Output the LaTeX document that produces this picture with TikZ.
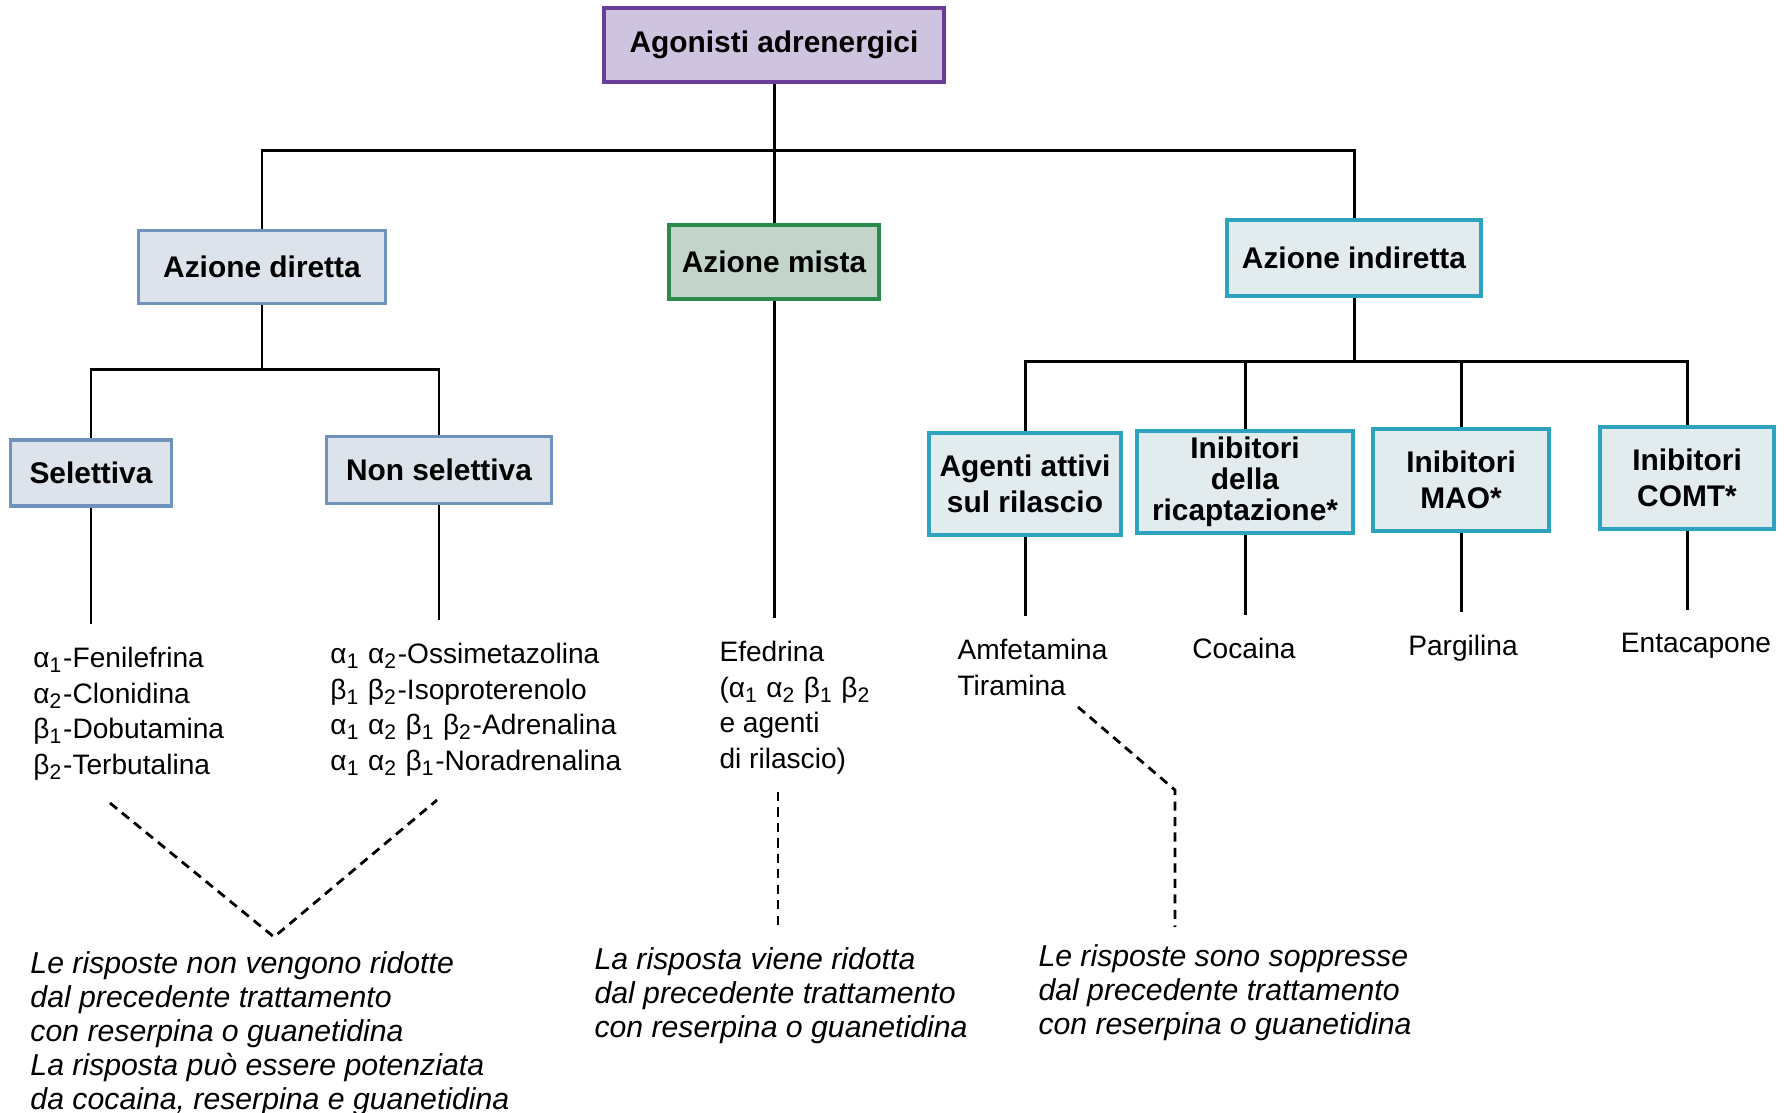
\documentclass[tikz,border=0pt]{standalone}
\usepackage{fontspec}
\setmainfont{Liberation Sans}
\usepackage{tikz}
\newcommand{\agr}[1]{α\textsubscript{#1}}
\newcommand{\bgr}[1]{β\textsubscript{#1}}
\definecolor{lilla}{HTML}{CFC4E0}
\definecolor{lillaB}{HTML}{6A3D99}
\definecolor{grigio}{HTML}{DDE3EA}
\definecolor{grigioB}{HTML}{7093BB}
\definecolor{verde}{HTML}{C3D5CB}
\definecolor{verdeB}{HTML}{2A8A4A}
\definecolor{ciano}{HTML}{E2ECEF}
\definecolor{cianoB}{HTML}{2EA3C0}

\begin{document}
\begin{tikzpicture}[x=0.1mm,y=-0.1mm,line width=0.85pt,
  box/.style={draw,line width=0.9pt,align=center,inner sep=0pt,font=\fontsize{8.5}{10.2}\selectfont\bfseries},
  boxT/.style={box,fill=lilla,draw=lillaB},
  boxD/.style={box,fill=grigio,draw=grigioB},
  boxM/.style={box,fill=verde,draw=verdeB},
  boxI/.style={box,fill=ciano,draw=cianoB},
  drug/.style={inner sep=0pt,align=left,font=\fontsize{8}{10.1}\selectfont},
  note/.style={inner sep=0pt,align=left,font=\fontsize{8.6}{9.7}\selectfont\itshape},
  tratteggio/.style={dash pattern=on 2.6pt off 1.8pt,line width=0.8pt}]
\useasboundingbox (0,0) rectangle (1791,1112);
\def\busA{150};
\def\busB{369};
\def\busC{361};

\node[boxT,minimum width=34mm,minimum height=7.4mm] (root) at (774,45) {Agonisti adrenergici};

\node[boxD,minimum width=24.7mm,minimum height=7.3mm] (dir) at (262,267) {Azione diretta};
\node[boxM,minimum width=21mm,minimum height=7.4mm] (mis) at (774,262) {Azione mista};
\node[boxI,minimum width=25.4mm,minimum height=7.6mm] (ind) at (1354,258) {Azione indiretta};
\coordinate (bA) at (774,\busA);
\draw (root.south) -- (bA) -| (dir.north);
\draw (bA) -| (ind.north);
\draw (bA) -- (mis.north);

\node[boxD,minimum width=16.1mm,minimum height=6.6mm] (sel) at (91,473) {Selettiva};
\node[boxD,minimum width=22.5mm,minimum height=6.7mm] (nsel) at (439,470) {Non selettiva};
\coordinate (bB) at (262,\busB);
\draw (dir.south) -- (bB) -| (sel.north);
\draw (bB) -| (nsel.north);

\node[boxI,minimum width=19.2mm,minimum height=10.2mm] (ril) at (1025,484) {Agenti attivi\\sul rilascio};
\node[boxI,minimum width=21.6mm,minimum height=10.2mm,font=\fontsize{8.5}{8.8}\selectfont\bfseries] (ric) at (1245,482) {Inibitori\\della\\ricaptazione*};
\node[boxI,minimum width=17.6mm,minimum height=10.2mm] (mao) at (1461,480) {Inibitori\\MAO*};
\node[boxI,minimum width=17.4mm,minimum height=10.2mm] (comt) at (1687,478) {Inibitori\\COMT*};
\coordinate (bC) at (1354,\busC);
\draw (ind.south) -- (bC) -| (ril.north);
\draw (bC) -| (comt.north);
\draw (ric.north) -- (ric.north |- bC);
\draw (mao.north) -- (mao.north |- bC);

% farmaci
\node[drug,anchor=north west] (sellist) at (32,646) {\agr{1}-Fenilefrina\\\agr{2}-Clonidina\\\bgr{1}-Dobutamina\\\bgr{2}-Terbutalina};
\node[drug,anchor=north west] (nsellist) at (329,642) {\agr{1} \agr{2}-Ossimetazolina\\\bgr{1} \bgr{2}-Isoproterenolo\\\agr{1} \agr{2} \bgr{1} \bgr{2}-Adrenalina\\\agr{1} \agr{2} \bgr{1}-Noradrenalina};
\node[drug,anchor=north west] (efed) at (718,640) {Efedrina\\(\agr{1} \agr{2} \bgr{1} \bgr{2}\\e agenti\\di rilascio)};
\node[drug,anchor=north west] (amf) at (956,638) {Amfetamina\\Tiramina};
\node[drug,anchor=north] (coc) at (1244,637) {Cocaina};
\node[drug,anchor=north] (parg) at (1463,634) {Pargilina};
\node[drug,anchor=north] (enta) at (1696,632) {Entacapone};
\draw (sel.south) -- ([yshift=2.2mm]sel.south |- sellist.north);
\draw (nsel.south) -- ([yshift=2.2mm]nsel.south |- nsellist.north);
\draw (mis.south) -- ([yshift=2.2mm]mis.south |- efed.north);
\draw (ril.south) -- ([yshift=2.2mm]ril.south |- amf.north);
\draw (ric.south) -- ([yshift=2.2mm]ric.south |- coc.north);
\draw (mao.south) -- ([yshift=2.2mm]mao.south |- parg.north);
\draw (comt.south) -- ([yshift=2.2mm]comt.south |- enta.north);

% risposte
\node[note,anchor=north west] (n1) at (29,950) {Le risposte non vengono ridotte\\dal precedente trattamento\\con reserpina o guanetidina\\La risposta può essere potenziata\\da cocaina, reserpina e guanetidina};
\node[note,anchor=north west] (n2) at (593,946) {La risposta viene ridotta\\dal precedente trattamento\\con reserpina o guanetidina};
\node[note,anchor=north west] (n3) at (1037,943) {Le risposte sono soppresse\\dal precedente trattamento\\con reserpina o guanetidina};
\coordinate (d1) at (110,803);
\coordinate (d2) at (274,937);
\coordinate (d3) at (437,800);
\draw[tratteggio] (d1) -- (d2) -- (d3);
\coordinate (e1) at (778,792);
\draw[tratteggio] (e1) -- ([yshift=1.5mm]e1 |- n2.north);
\coordinate (f1) at (1078,707);
\coordinate (f2) at (1175,790);
\draw[tratteggio] (f1) -- (f2) -- ([yshift=1.6mm]f2 |- n3.north);
\end{tikzpicture}
\end{document}
